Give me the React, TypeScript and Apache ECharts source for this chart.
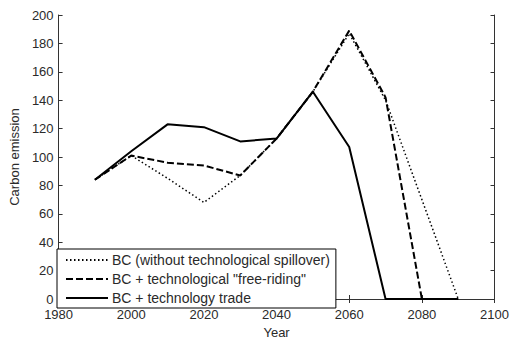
import React, { useEffect, useRef } from "react";
import * as echarts from "echarts";

const years = [1990, 2000, 2010, 2020, 2030, 2040, 2050, 2060, 2070, 2080, 2090];
const bcNoSpill = [84, 101, 85, 68, 87, 113, 146, 187, 140, 70, 0];
const bcFreeRiding = [84, 101, 96, 94, 87, 113, 146, 189, 142, 0, 0];
const bcTrade = [84, 104, 123, 121, 111, 113, 146, 107, 0, 0, 0];
const seriesNames = [
  "BC (without technological spillover)",
  "BC + technological \"free-riding\"",
  "BC + technology trade",
];

const FONT = "'Liberation Sans', Arial, Helvetica, sans-serif";
const AX = "#333";
const TXT = "#2a2a2a";

export default function App() {
  const ref = useRef<HTMLDivElement>(null);
  useEffect(() => {
    if (!ref.current) return;
    const chart = echarts.init(ref.current, undefined, { renderer: "svg" });
    const pair = (vals: number[]) => years.map((y, i) => [y, vals[i]]);
    chart.setOption({
      animation: false,
      backgroundColor: "#fff",
      textStyle: { fontFamily: FONT },
      grid: { left: 57, top: 15, right: 15, bottom: 37 },
      legend: {
        left: 57,
        top: 249,
        orient: "vertical",
        itemWidth: 42,
        itemHeight: 14,
        itemGap: 5,
        padding: [4, 6, 3, 8],
        borderColor: "#000",
        borderWidth: 1,
        borderRadius: 0,
        backgroundColor: "#fff",
        itemStyle: { opacity: 0 },
        textStyle: { fontFamily: FONT, fontSize: 14, color: TXT, padding: [0, 0, 0, -1] },
        data: seriesNames,
      },
      xAxis: [
        {
          type: "value",
          min: 1980,
          max: 2100,
          interval: 20,
          name: "Year",
          nameLocation: "middle",
          nameGap: 27,
          nameTextStyle: { fontFamily: FONT, fontSize: 13, color: TXT },
          axisLine: { lineStyle: { color: AX, width: 1 } },
          axisTick: { inside: true, length: 4, lineStyle: { color: AX } },
          axisLabel: {
            fontFamily: FONT,
            fontSize: 13,
            color: TXT,
            margin: 9,
            formatter: (v: number) => String(v),
          },
          splitLine: { show: false },
        },
        {
          type: "value",
          position: "top",
          min: 1980,
          max: 2100,
          interval: 20,
          axisLine: { show: true, lineStyle: { color: AX, width: 1 } },
          axisTick: { inside: true, length: 4, lineStyle: { color: AX } },
          axisLabel: { show: false },
          splitLine: { show: false },
        },
      ],
      yAxis: [
        {
          type: "value",
          min: 0,
          max: 200,
          interval: 20,
          name: "Carbon emission",
          nameLocation: "middle",
          nameGap: 37,
          nameTextStyle: { fontFamily: FONT, fontSize: 13, color: TXT },
          axisLine: { show: true, lineStyle: { color: AX, width: 1 } },
          axisTick: { show: true, inside: true, length: 4, lineStyle: { color: AX } },
          axisLabel: {
            fontFamily: FONT,
            fontSize: 13,
            color: TXT,
            margin: 5,
            formatter: (v: number) => String(v),
          },
          splitLine: { show: false },
        },
        {
          type: "value",
          position: "right",
          min: 0,
          max: 200,
          interval: 20,
          axisLine: { show: true, lineStyle: { color: AX, width: 1 } },
          axisTick: { show: true, inside: true, length: 4, lineStyle: { color: AX } },
          axisLabel: { show: false },
          splitLine: { show: false },
        },
      ],
      series: [
        {
          name: seriesNames[0],
          type: "line",
          symbol: "none",
          data: pair(bcNoSpill),
          lineStyle: { color: "#000", width: 1.5, type: [1.5, 2.5] },
          itemStyle: { color: "#000" },
          z: 3,
        },
        {
          name: seriesNames[1],
          type: "line",
          symbol: "none",
          data: pair(bcFreeRiding),
          lineStyle: { color: "#000", width: 2, type: [7, 3] },
          itemStyle: { color: "#000" },
          z: 4,
        },
        {
          name: seriesNames[2],
          type: "line",
          symbol: "none",
          data: pair(bcTrade),
          lineStyle: { color: "#000", width: 2, type: "solid" },
          itemStyle: { color: "#000" },
          z: 5,
        },
      ],
    });
    return () => chart.dispose();
  }, []);
  return (
    <div
      ref={ref}
      style={{ position: "absolute", left: 0, top: 0, width: 512, height: 344 }}
    />
  );
}
